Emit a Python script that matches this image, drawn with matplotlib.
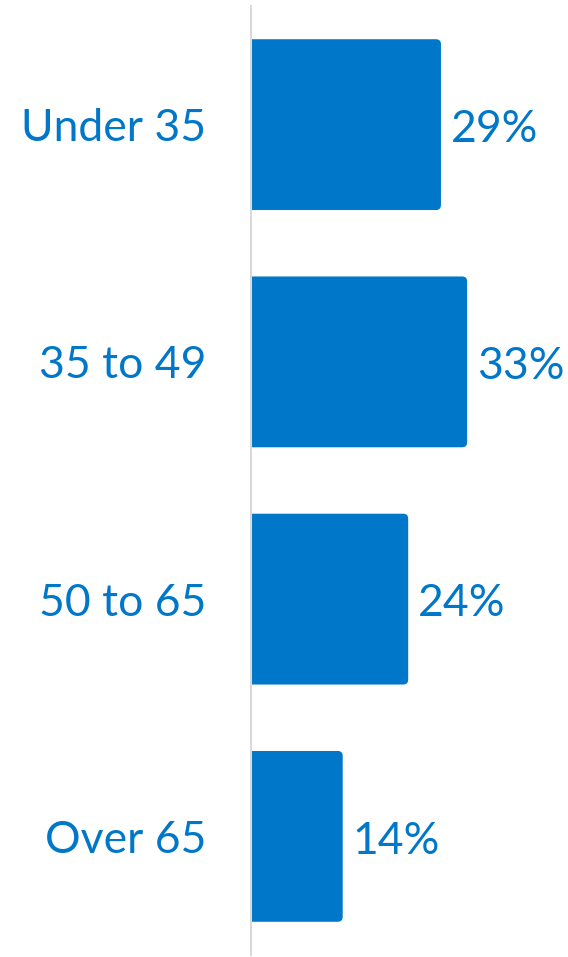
import matplotlib
matplotlib.use('Agg')
import matplotlib.pyplot as plt
from matplotlib.patches import FancyBboxPatch

# age groups and their shares (%)
groups = ['Under 35', '35 to 49', '50 to 65', 'Over 65']
shares = [29, 33, 24, 14]

blue = '#0077c8'
plt.rcParams['font.family'] = ['Lato', 'DejaVu Sans']

fig = plt.figure(figsize=(5.68, 9.57), dpi=100)
ax = fig.add_axes([251/568, 2/957, 317/568, 949/957])

ypos = list(range(len(groups)))
bars = ax.barh(ypos, shares, height=0.72, color=blue)
ax.set_xlim(0, 317/6.55)
ax.set_ylim(len(groups)-0.5, -0.5)

# swap plain bars for ones with rounded right corners
rad_x = 5/6.55
for b in bars:
    x0, y0 = b.get_x(), b.get_y()
    w, h = b.get_width(), b.get_height()
    b.set_visible(False)
    p = FancyBboxPatch((x0-3, y0), w+3, h,
                       boxstyle='round,pad=0,rounding_size=%g' % rad_x,
                       mutation_aspect=(5/237.5)/rad_x,
                       facecolor=blue, edgecolor='none', clip_on=True)
    ax.add_patch(p)

for y, v in zip(ypos, shares):
    ax.text(v + 10/6.55, y + 0.02, '%d%%' % v, color=blue, fontsize=32,
            ha='left', va='center')

ax.set_yticks(ypos)
ax.set_yticklabels(groups, color=blue, fontsize=32)
ax.tick_params(axis='y', length=0, pad=32)
ax.set_xticks([])
for s in ['top', 'right', 'bottom']:
    ax.spines[s].set_visible(False)
ax.spines['left'].set_color('#d9d9d9')
ax.spines['left'].set_linewidth(1.5)
ax.spines['left'].set_bounds(-0.5, 3.5)

fig.savefig('out.png', dpi=100)
